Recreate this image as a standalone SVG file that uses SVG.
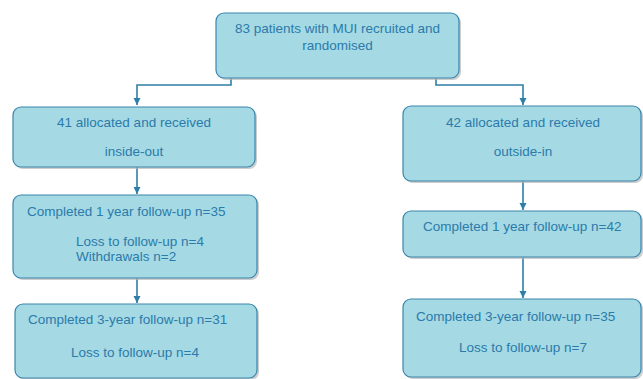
<svg xmlns="http://www.w3.org/2000/svg" width="643" height="379" viewBox="0 0 643 379">
<style>
.box{fill:#a5d9e3;stroke:#3a86ad;stroke-width:1.2}
.sh{fill:#b8b8b8;opacity:0.7}
.t{font-family:"Liberation Sans",Arial,sans-serif;font-size:13.5px;fill:#2b7bab}
.c{text-anchor:middle}
.ln{fill:none;stroke:#2e7fa8;stroke-width:1.6}
</style>
<defs>
<marker id="ah" viewBox="0 0 10 10" refX="10" refY="5" markerWidth="4.5" markerHeight="4.5" orient="auto" markerUnits="strokeWidth">
<path d="M0,0 L10,5 L0,10 z" fill="#2e7fa8"/>
</marker>
</defs>
<g id="connectors">
<path class="ln" d="M231,78 V85 H137 V105" marker-end="url(#ah)"/>
<path class="ln" d="M436,78 V85 H523 V105" marker-end="url(#ah)"/>
<path class="ln" d="M137,167 V194" marker-end="url(#ah)"/>
<path class="ln" d="M523,181 V210" marker-end="url(#ah)"/>
<path class="ln" d="M137,278 V303" marker-end="url(#ah)"/>
<path class="ln" d="M523,257 V298" marker-end="url(#ah)"/>
</g>
<g id="n1">
<rect class="sh" x="218" y="15" width="243" height="65" rx="8"/>
<rect class="box" x="216" y="13" width="243" height="65" rx="8"/>
<text class="t c" x="337.5" y="33">83 patients with MUI recruited and</text>
<text class="t c" x="337.5" y="50">randomised</text>
</g>
<g id="n2">
<rect class="sh" x="15" y="109" width="242" height="60" rx="8"/>
<rect class="box" x="13" y="107" width="242" height="60" rx="8"/>
<text class="t c" x="134" y="127">41 allocated and received</text>
<text class="t c" x="134" y="156">inside-out</text>
</g>
<g id="n3">
<rect class="sh" x="405" y="108" width="238" height="75" rx="8"/>
<rect class="box" x="403" y="106" width="238" height="75" rx="8"/>
<text class="t c" x="523" y="127">42 allocated and received</text>
<text class="t c" x="523" y="156">outside-in</text>
</g>
<g id="n4">
<rect class="sh" x="15" y="197" width="244" height="83" rx="8"/>
<rect class="box" x="13" y="195" width="244" height="83" rx="8"/>
<text class="t" x="27" y="216">Completed 1 year follow-up n=35</text>
<text class="t" x="76" y="246">Loss to follow-up n=4</text>
<text class="t" x="76" y="261">Withdrawals n=2</text>
</g>
<g id="n5">
<rect class="sh" x="405" y="213" width="238" height="46" rx="8"/>
<rect class="box" x="403" y="211" width="238" height="46" rx="8"/>
<text class="t" x="423" y="231">Completed 1 year follow-up n=42</text>
</g>
<g id="n6">
<rect class="sh" x="17" y="306" width="242" height="74" rx="8"/>
<rect class="box" x="15" y="304" width="242" height="74" rx="8"/>
<text class="t" x="28" y="324">Completed 3-year follow-up n=31</text>
<text class="t" x="71" y="357">Loss to follow-up n=4</text>
</g>
<g id="n7">
<rect class="sh" x="405" y="301" width="238" height="78" rx="8"/>
<rect class="box" x="403" y="299" width="238" height="78" rx="8"/>
<text class="t" x="416" y="321">Completed 3-year follow-up n=35</text>
<text class="t" x="459" y="352">Loss to follow-up n=7</text>
</g>
</svg>
